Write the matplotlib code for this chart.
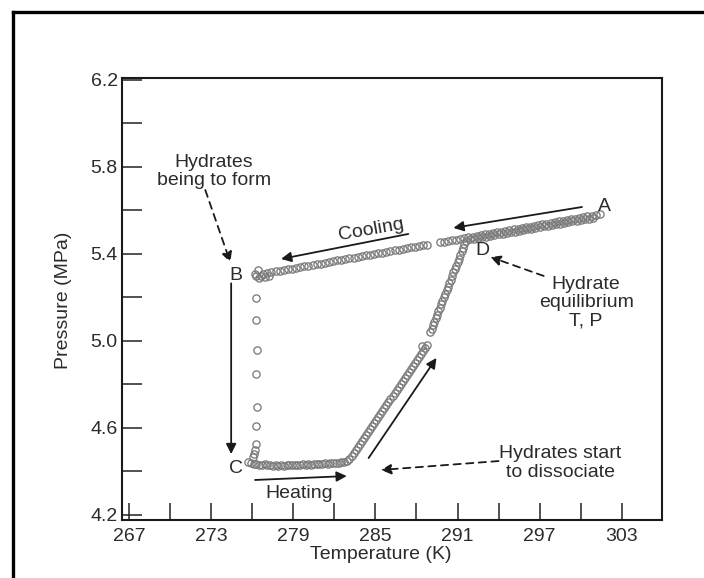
import numpy as np
import matplotlib
matplotlib.use("Agg")
import matplotlib.pyplot as plt
from matplotlib.lines import Line2D

plt.rcParams['font.family'] = ['Liberation Sans', 'DejaVu Sans']

# ---- measured data (Temperature in K, Pressure in MPa) ----
# cooling run from A down to B (upper branch)
cool_T = [301.4, 301.1, 300.8, 300.5, 300.2, 299.9, 299.6, 299.3, 299.0, 298.7,
          298.4, 298.1, 297.8, 297.5, 297.2, 296.9, 296.6, 296.3, 296.0, 295.7,
          295.4, 295.1, 294.8, 294.5, 294.2, 293.9, 293.6, 293.3, 293.0, 292.7,
          292.4, 292.1, 291.8, 291.5, 291.2, 290.9, 290.6, 290.3, 290.0, 289.7,
          288.8, 288.5, 288.2, 287.9, 287.6, 287.3, 287.0, 286.7, 286.4, 286.1,
          285.8, 285.5, 285.2, 284.9, 284.6, 284.3, 284.0, 283.7, 283.4, 283.1,
          282.8, 282.5, 282.2, 281.9, 281.6, 281.3, 281.0, 280.7, 280.4, 280.1,
          279.8, 279.5, 279.2, 278.9, 278.6, 278.3, 278.0, 277.7, 277.4, 277.1,
          276.8, 276.6, 276.4, 276.2, 276.5, 276.9, 277.2, 276.3]
cool_P = [5.583, 5.580, 5.576, 5.573, 5.570, 5.566, 5.563, 5.560, 5.556, 5.553,
          5.550, 5.546, 5.543, 5.540, 5.536, 5.533, 5.530, 5.526, 5.523, 5.520,
          5.516, 5.513, 5.510, 5.506, 5.503, 5.500, 5.496, 5.493, 5.490, 5.486,
          5.483, 5.480, 5.476, 5.473, 5.470, 5.466, 5.463, 5.460, 5.456, 5.453,
          5.443, 5.440, 5.436, 5.433, 5.430, 5.426, 5.423, 5.420, 5.416, 5.413,
          5.410, 5.406, 5.403, 5.400, 5.396, 5.393, 5.390, 5.386, 5.383, 5.380,
          5.376, 5.373, 5.370, 5.366, 5.363, 5.360, 5.356, 5.353, 5.350, 5.346,
          5.343, 5.340, 5.336, 5.333, 5.330, 5.326, 5.323, 5.320, 5.316, 5.313,
          5.310, 5.300, 5.325, 5.310, 5.290, 5.295, 5.300, 5.300]

# pressure drop at nearly constant temperature (B to C)
drop_T = [276.30, 276.30, 276.35, 276.30, 276.35, 276.30, 276.30, 276.20, 276.15, 276.05]
drop_P = [5.198, 5.097, 4.959, 4.848, 4.697, 4.609, 4.526, 4.500, 4.482, 4.465]

# heating at nearly constant pressure (C onwards)
flat_T = [275.7, 275.9, 276.1, 276.3, 276.5, 276.7, 276.9, 277.1, 277.3, 277.5,
          277.7, 277.9, 278.1, 278.3, 278.5, 278.7, 278.9, 279.1, 279.3, 279.5,
          279.7, 279.9, 280.1, 280.3, 280.5, 280.7, 280.9, 281.1, 281.3, 281.5,
          281.7, 281.9, 282.1, 282.3, 282.5, 282.7, 282.9]
flat_P = [4.445, 4.440, 4.436, 4.434, 4.432, 4.430, 4.433, 4.428, 4.431, 4.427,
          4.430, 4.426, 4.429, 4.427, 4.430, 4.428, 4.431, 4.429, 4.432, 4.430,
          4.433, 4.431, 4.434, 4.432, 4.435, 4.433, 4.436, 4.434, 4.437, 4.436,
          4.438, 4.437, 4.440, 4.439, 4.442, 4.443, 4.446]

# dissociation, first stage
rise_T = [283.1, 283.25, 283.4, 283.55, 283.7, 283.85, 284.0, 284.15, 284.3, 284.45,
          284.6, 284.75, 284.9, 285.05, 285.2, 285.35, 285.5, 285.65, 285.8, 285.95,
          286.1, 286.25, 286.4, 286.55, 286.7, 286.85, 287.0, 287.15, 287.3, 287.45,
          287.6, 287.75, 287.9, 288.05, 288.2, 288.35, 288.5, 288.65, 288.8, 288.4]
rise_P = [4.459, 4.473, 4.487, 4.500, 4.514, 4.528, 4.541, 4.555, 4.569, 4.583,
          4.596, 4.610, 4.624, 4.637, 4.651, 4.665, 4.679, 4.692, 4.706, 4.720,
          4.733, 4.747, 4.761, 4.774, 4.788, 4.802, 4.816, 4.829, 4.843, 4.857,
          4.870, 4.884, 4.898, 4.911, 4.925, 4.939, 4.953, 4.966, 4.980, 4.975]

# dissociation, second stage up to D
steep_T = [289.0, 289.1, 289.2, 289.3, 289.4, 289.5, 289.6, 289.7, 289.8, 289.9,
           290.0, 290.1, 290.2, 290.3, 290.4, 290.5, 290.6, 290.7, 290.8, 290.9,
           291.0, 291.1, 291.2, 291.3, 291.4, 291.5, 291.6]
steep_P = [5.040, 5.056, 5.072, 5.088, 5.105, 5.121, 5.137, 5.153, 5.169, 5.185,
           5.202, 5.218, 5.234, 5.250, 5.266, 5.282, 5.299, 5.315, 5.331, 5.347,
           5.363, 5.379, 5.396, 5.412, 5.428, 5.444, 5.460]

# heating back from D to A (gas phase only)
back_T = [291.9, 292.2, 292.5, 292.8, 293.1, 293.4, 293.7, 294.0, 294.3, 294.6,
          294.9, 295.2, 295.5, 295.8, 296.1, 296.4, 296.7, 297.0, 297.3, 297.6,
          297.9, 298.2, 298.5, 298.8, 299.1, 299.4, 299.7, 300.0, 300.3, 300.6, 300.9]
back_P = [5.467, 5.470, 5.473, 5.477, 5.480, 5.483, 5.487, 5.490, 5.493, 5.497,
          5.500, 5.503, 5.507, 5.510, 5.513, 5.517, 5.520, 5.523, 5.527, 5.530,
          5.533, 5.537, 5.540, 5.543, 5.547, 5.550, 5.553, 5.557, 5.560, 5.563, 5.567]

x_major = [267, 273, 279, 285, 291, 297, 303]
x_minor = [270, 276, 282, 288, 294, 300]
y_major = [4.2, 4.6, 5.0, 5.4, 5.8, 6.2]
y_minor = [4.4, 4.8, 5.2, 5.6, 6.0]

# ---- figure ----
fig = plt.figure(figsize=(7.04, 5.78), dpi=100)
ax = fig.add_axes([122 / 704, 1 - 520 / 578, 540 / 704, 442 / 578])

mk = dict(ls='none', marker='o', ms=5.2, mfc='none', mec='#7a7a7a', mew=0.95)
for T, P in [(cool_T, cool_P), (back_T, back_P), (drop_T, drop_P),
             (flat_T, flat_P), (rise_T, rise_P), (steep_T, steep_P)]:
    ax.plot(T, P, **mk)

ax.set_xlim(266.47, 305.95)
ax.set_ylim(4.177, 6.209)

ax.set_xticks(x_major)
ax.set_xticks(x_minor, minor=True)
ax.set_yticks(y_major)
ax.set_yticks(y_minor, minor=True)
ax.set_xticklabels([str(v) for v in x_major])
ax.set_yticklabels([f"{v:.1f}" for v in y_major])

txt = '#2b2b2b'
fs = 14
ax.tick_params(axis='x', which='both', direction='in', length=12, width=1.1,
               color='#222222', labelsize=fs, labelcolor=txt, pad=6)
ax.tick_params(axis='y', which='both', direction='in', length=14.5, width=1.1,
               color='#222222', labelsize=fs, labelcolor=txt, pad=3)
for s in ax.spines.values():
    s.set_linewidth(1.5)
    s.set_color('#1a1a1a')

ax.set_xlabel('Temperature (K)', fontsize=fs, color=txt)
ax.xaxis.set_label_coords(0.48, -0.079)
ax.xaxis.label.set_va('center')
ax.set_ylabel('Pressure (MPa)', fontsize=fs, color=txt)
ax.yaxis.set_label_coords(-0.109, 0.498)
ax.yaxis.label.set_va('center')

# ---- letters and notes ----
ax.text(301.75, 5.616, 'A', fontsize=fs, color=txt, ha='center', va='center')
ax.text(274.8, 5.299, 'B', fontsize=fs, color=txt, ha='center', va='center')
ax.text(274.8, 4.416, 'C', fontsize=fs, color=txt, ha='center', va='center')
ax.text(292.8, 5.418, 'D', fontsize=fs, color=txt, ha='center', va='center')

ax.text(284.7, 5.51, 'Cooling', fontsize=fs, color=txt, ha='center', va='center',
        rotation=10)
ax.text(279.4, 4.30, 'Heating', fontsize=fs, color=txt, ha='center', va='center')
ax.text(273.2, 5.78, 'Hydrates\nbeing to form', fontsize=fs, color=txt,
        ha='center', va='center', linespacing=1.08)
ax.text(300.4, 5.175, 'Hydrate\nequilibrium\nT, P', fontsize=fs, color=txt,
        ha='center', va='center', linespacing=1.08)
ax.text(298.5, 4.439, 'Hydrates start\nto dissociate', fontsize=fs, color=txt,
        ha='center', va='center', linespacing=1.08)

solid = dict(arrowstyle='-|>', color='#1a1a1a', lw=1.3, mutation_scale=15,
             shrinkA=0, shrinkB=0)
dashed = dict(arrowstyle='-|>', color='#1a1a1a', lw=1.3, mutation_scale=15,
              shrinkA=0, shrinkB=0, linestyle=(0, (4, 3)))

# process direction arrows
ax.annotate('', xy=(278.1, 5.377), xytext=(287.4, 5.492), arrowprops=solid)
ax.annotate('', xy=(290.7, 5.520), xytext=(300.1, 5.616), arrowprops=solid)
ax.annotate('', xy=(274.45, 4.48), xytext=(274.45, 5.265), arrowprops=solid)
ax.annotate('', xy=(282.9, 4.379), xytext=(276.2, 4.361), arrowprops=solid)
ax.annotate('', xy=(289.46, 4.922), xytext=(284.5, 4.462), arrowprops=solid)

# pointers from notes
ax.annotate('', xy=(274.39, 5.361), xytext=(272.56, 5.694), arrowprops=dashed)
ax.annotate('', xy=(293.4, 5.386), xytext=(297.3, 5.299), arrowprops=dashed)
ax.annotate('', xy=(285.4, 4.407), xytext=(294.0, 4.448), arrowprops=dashed)

# frame around the figure
fig.add_artist(Line2D([13 / 704, 13 / 704], [0, 1 - 12 / 578], color='black',
                      lw=2.4, transform=fig.transFigure))
fig.add_artist(Line2D([13 / 704, 1], [1 - 12 / 578, 1 - 12 / 578], color='black',
                      lw=2.4, transform=fig.transFigure))

fig.savefig('out.png', dpi=100)
